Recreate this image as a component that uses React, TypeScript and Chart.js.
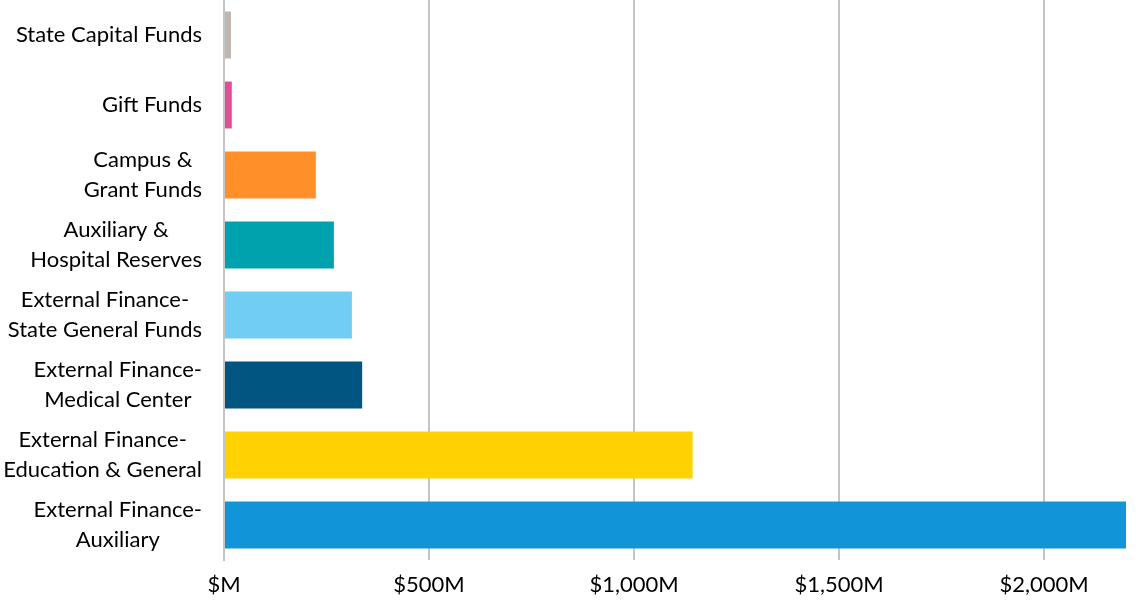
import React, { useEffect, useRef } from "react";
import { Chart, registerables } from "chart.js";

Chart.register(...registerables);

const categories: (string | string[])[] = [
  "State Capital Funds",
  "Gift Funds",
  ["Campus &", "Grant Funds"],
  ["Auxiliary &", "Hospital Reserves"],
  ["External Finance-", "State General Funds"],
  ["External Finance-", "Medical Center"],
  ["External Finance-", "Education & General"],
  ["External Finance-", "Auxiliary"],
];

const values = [17, 19, 224, 268, 312, 337, 1143, 2210];

const barColors = [
  "#BEB6AF",
  "#E44C9A",
  "#FF8F28",
  "#00A3AD",
  "#72CDF4",
  "#005581",
  "#FFD200",
  "#1295D8",
];

const xTicks = [0, 500, 1000, 1500, 2000];
const xMax = 2200;

const FONT = "Lato, 'Open Sans', sans-serif";
const FONT_SIZE = 22;
const LINE_H = 30;
const Y_PAD = 22;

const blockLabels = {
  id: "blockLabels",
  afterDraw(chart: any) {
    const scale = chart.scales.y;
    const ctx = chart.ctx;
    ctx.save();
    ctx.font = `${FONT_SIZE}px ${FONT}`;
    ctx.fillStyle = "#000";
    ctx.textAlign = "center";
    ctx.textBaseline = "middle";
    const right = scale.right - Y_PAD;
    categories.forEach((lab, i) => {
      const lines = Array.isArray(lab) ? lab : [lab];
      const w = Math.max(...lines.map((l) => ctx.measureText(l).width));
      const cx = right - w / 2;
      const cy = scale.getPixelForTick(i);
      const y0 = cy - ((lines.length - 1) * LINE_H) / 2;
      lines.forEach((l, k) => ctx.fillText(l, cx, y0 + k * LINE_H));
    });
    ctx.restore();
  },
};

export default function App() {
  const ref = useRef<HTMLCanvasElement | null>(null);

  useEffect(() => {
    if (!ref.current) return;
    const chart = new Chart(ref.current, {
      type: "bar",
      data: {
        labels: categories,
        datasets: [
          {
            data: values,
            backgroundColor: barColors,
            borderWidth: 0,
            categoryPercentage: 1,
            barPercentage: 0.67,
          },
        ],
      },
      plugins: [blockLabels],
      options: {
        indexAxis: "y",
        animation: false,
        responsive: false,
        maintainAspectRatio: false,
        layout: { padding: { top: 0, right: 10, left: 0, bottom: 0 } },
        plugins: {
          legend: { display: false },
          tooltip: { enabled: false },
        },
        scales: {
          x: {
            min: 0,
            max: xMax,
            afterBuildTicks: (scale: any) => {
              scale.ticks = xTicks.map((v) => ({ value: v }));
            },
            afterFit: (scale: any) => {
              scale.height = 44;
              scale.paddingLeft = 0;
              scale.paddingRight = 0;
            },
            grid: {
              color: "#C4C4C4",
              lineWidth: 2,
              drawTicks: false,
            },
            border: { display: false },
            ticks: {
              color: "#000",
              padding: 12,
              font: { family: FONT, size: FONT_SIZE },
              maxRotation: 0,
              callback: (v: any) =>
                Number(v) === 0 ? "$M" : "$" + Number(v).toLocaleString("en-US") + "M",
            },
          },
          y: {
            afterFit: (scale: any) => {
              scale.width = 224;
              scale.paddingTop = 0;
              scale.paddingBottom = 0;
            },
            grid: { display: false, drawTicks: false },
            border: { display: true, color: "#C4C4C4", width: 2 },
            ticks: {
              color: "rgba(0,0,0,0)",
              padding: Y_PAD,
              font: { family: FONT, size: FONT_SIZE, lineHeight: LINE_H / FONT_SIZE },
            },
          },
        },
      },
    });
    return () => chart.destroy();
  }, []);

  return (
    <div style={{ position: "fixed", left: 0, top: 0, width: 1136, height: 604, background: "#fff" }}>
      <canvas ref={ref} width={1136} height={604} style={{ width: 1136, height: 604 }} />
    </div>
  );
}
